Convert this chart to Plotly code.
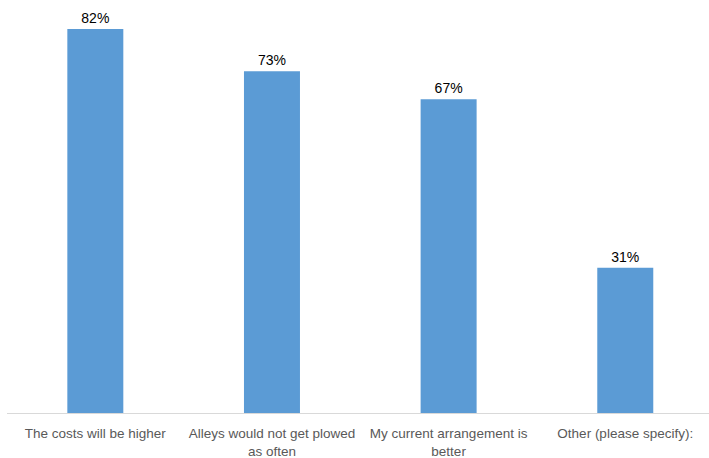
import plotly.graph_objects as go

categories = ["The costs will be higher", "Alleys would not get plowed<br>as often",
              "My current arrangement is<br>better", "Other (please specify):"]
values = [0.82, 0.73, 0.67, 0.31]
labels = ["82%", "73%", "67%", "31%"]

fig = go.Figure(go.Bar(
    x=list(range(len(categories))), y=values, width=0.317,
    marker=dict(color="#5B9BD5", line=dict(width=0)),
    text=labels, textposition="outside", cliponaxis=False,
    textfont=dict(family="Liberation Sans, Arial", size=14, color="#000000"),
))
fig.update_layout(
    width=709, height=458,
    margin=dict(l=7, r=0, t=0, b=45),
    paper_bgcolor="white", plot_bgcolor="white",
    showlegend=False,
    xaxis=dict(range=[-0.5, 3.474], tickmode="array", tickvals=list(range(len(categories))),
               ticktext=categories, showgrid=False, zeroline=False,
               showline=True, linecolor="#D9D9D9", linewidth=1, ticks="",
               ticklabelstandoff=8,
               tickfont=dict(family="Liberation Sans, Arial", size=13.5, color="#595959")),
    yaxis=dict(range=[0, 0.882], visible=False),
)
fig.write_html("out.html", config={"displayModeBar": False},
               post_script="document.body.style.margin='0';document.body.style.overflow='hidden';")
